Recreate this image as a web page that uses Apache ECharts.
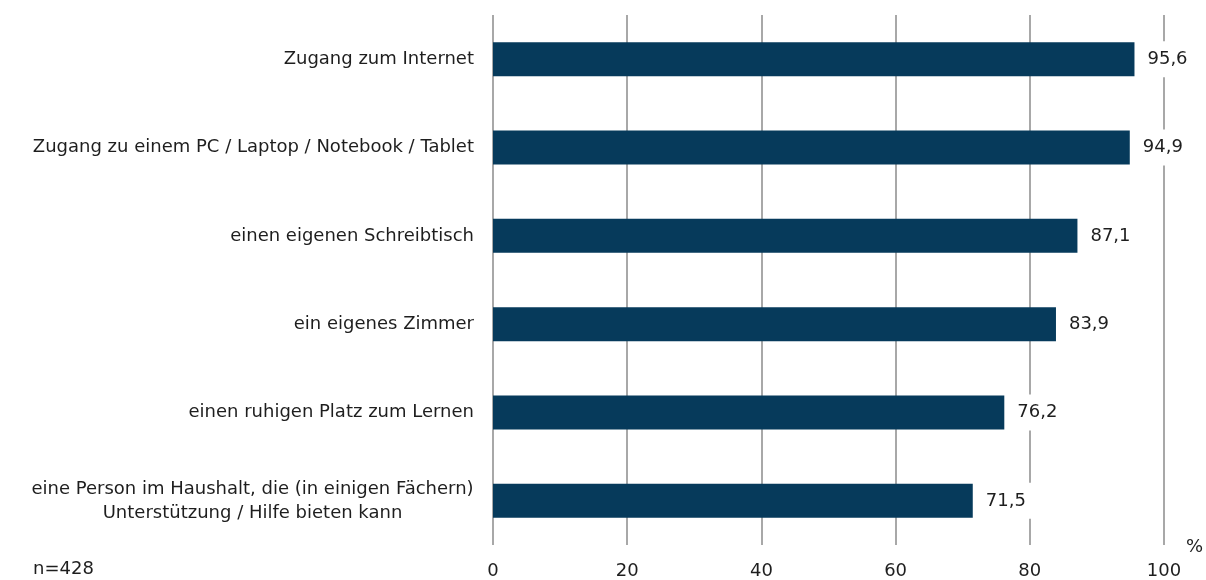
<!DOCTYPE html>
<html>
<head>
<meta charset="utf-8">
<script src="https://cdn.jsdelivr.net/npm/echarts@6/dist/echarts.min.js"></script>
<style>
  html, body { margin: 0; padding: 0; background: #fff; }
  #chart { width: 1206px; height: 580px; }
</style>
</head>
<body>
<div id="chart"></div>
<script>
// Kategorien von oben nach unten
var categories = [
    'Zugang zum Internet',
    'Zugang zu einem PC / Laptop / Notebook / Tablet',
    'einen eigenen Schreibtisch',
    'ein eigenes Zimmer',
    'einen ruhigen Platz zum Lernen',
    'eine Person im Haushalt, die (in einigen Fächern)\nUnterstützung / Hilfe bieten kann'
];
var values = [95.6, 94.9, 87.1, 83.9, 76.2, 71.5];
var tickLabels = ['0', '20', '40', '60', '80', '100'];
var sampleNote = 'n=428';
var unitLabel = '%';

var FONT = '"DejaVu Sans", "Liberation Sans", sans-serif';
var BAR = '#063a5b';
var TXT = '#1e1e1e';

var chart = echarts.init(document.getElementById('chart'));

chart.setOption({
    animation: false,
    textStyle: { fontFamily: FONT },
    grid: {
        left: 493,
        right: 42,
        top: 15,
        bottom: 35
    },
    xAxis: {
        type: 'value',
        min: 0,
        max: 100,
        interval: 20,
        axisLine: { show: false },
        axisTick: { show: false },
        axisLabel: {
            margin: 17,
            fontSize: 18,
            color: TXT,
            fontFamily: FONT,
            formatter: function (v) {
                return tickLabels[v / 20];
            }
        },
        splitLine: {
            lineStyle: { color: '#a8a8a8', width: 2 }
        }
    },
    yAxis: {
        type: 'category',
        inverse: true,
        data: categories,
        axisLine: { show: false },
        axisTick: { show: false },
        axisLabel: {
            margin: 19,
            fontSize: 18,
            color: TXT,
            fontFamily: FONT,
            lineHeight: 24,
            formatter: function (v) {
                if (v.indexOf('\n') < 0) return v;
                // mehrzeiliges Label zentriert setzen
                return v.split('\n').map(function (l) {
                    return '{c|' + l + '}';
                }).join('\n');
            },
            rich: {
                c: {
                    width: 443,
                    align: 'center',
                    fontSize: 18,
                    color: TXT,
                    fontFamily: FONT,
                    lineHeight: 24
                }
            }
        }
    },
    series: [{
        type: 'bar',
        data: values,
        barWidth: 34,
        itemStyle: { color: BAR },
        label: {
            show: true,
            position: 'right',
            distance: 7,
            fontSize: 18,
            color: TXT,
            fontFamily: FONT,
            backgroundColor: '#fff',
            padding: [9, 6],
            formatter: function (p) {
                return String(p.value).replace('.', ',');
            }
        }
    }],
    graphic: [{
        type: 'text',
        left: 33,
        top: 560,
        style: { text: sampleNote, fontSize: 18, fill: TXT, fontFamily: FONT }
    }, {
        type: 'text',
        left: 1186,
        top: 538,
        style: { text: unitLabel, fontSize: 18, fill: TXT, fontFamily: FONT }
    }]
});
</script>
</body>
</html>
